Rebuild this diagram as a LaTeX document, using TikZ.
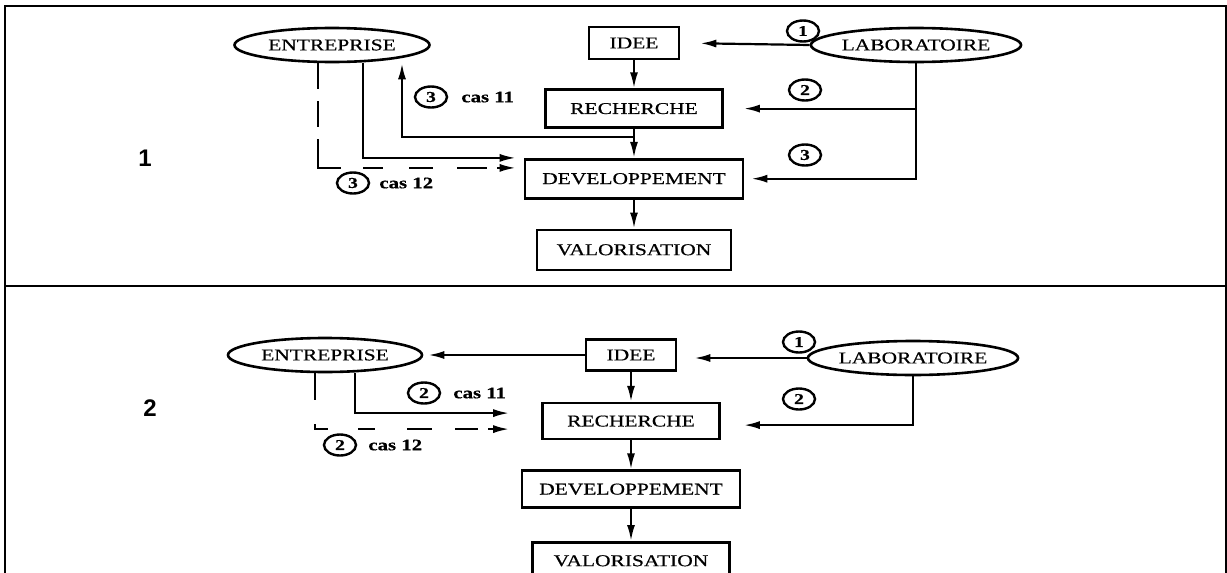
\documentclass[tikz,border=0pt]{standalone}
\usepackage{fontspec}
\setmainfont{Liberation Serif}[FakeStretch=1.3,FakeBold=0.6]
\newfontfamily\panelfont{Liberation Sans}
\usetikzlibrary{arrows.meta,positioning,shapes.geometric}

\begin{document}
\begin{tikzpicture}[
  x=1pt,y=1pt,
  box/.style={draw,line width=2.6pt,inner sep=0pt,font=\fontsize{16.5}{18}\selectfont},
  actor/.style={draw,ellipse,line width=2.6pt,inner sep=0pt,minimum width=194pt,
    minimum height=34pt,font=\fontsize{16.5}{18}\selectfont},
  num/.style={draw,ellipse,line width=2.4pt,inner sep=0pt,minimum width=32pt,
    minimum height=21pt,font=\bfseries\fontsize{15}{15}\selectfont},
  cas/.style={inner sep=0pt,font=\bfseries\fontsize{16}{16}\selectfont},
  panel/.style={font=\panelfont\bfseries\fontsize{24}{24}\selectfont},
  arrow/.style={-{Latex[length=16pt,width=8pt]},line width=2.2pt},
  dashone/.style={dash pattern=on 26pt off 12pt on 26pt off 12pt on 52pt off 22pt
    on 20pt off 26pt on 24pt off 24pt on 30pt off 10pt},
  dashtwo/.style={dash pattern=on 27pt off 24pt on 18pt off 30pt on 17pt off 32pt
    on 25pt off 23pt on 23pt off 10pt}
]
\useasboundingbox (0,0) rectangle (1227,-573);
% frame
\draw[line width=2.4pt] (5,-573) -- (5,-6) -- (1226,-6) -- (1226,-573);
\draw[line width=2.4pt] (5,-286) -- (1226,-286);
\node[panel] (p1) at (145,-158) {1};
\node[panel] (p2) at (150,-408) {2};

% panel 1
\node[box,minimum width=90pt,minimum height=32pt] (idee1) at (634,-43) {IDEE};
\node[box,minimum width=177pt,minimum height=38pt,below=28pt of idee1] (rec1) {RECHERCHE};
\node[box,minimum width=218pt,minimum height=39pt,below=29pt of rec1] (dev1) {DEVELOPPEMENT};
\node[box,minimum width=194pt,minimum height=40pt,below=29pt of dev1] (val1) {VALORISATION};
\node[actor,minimum width=195pt] (ent1) at (332,-45) {ENTREPRISE};
\node[actor] (lab1) at (916,-45) {LABORATOIRE};
\draw[arrow] (idee1) -- (rec1);
\draw[arrow] (rec1) -- (dev1);
\draw[arrow] (dev1) -- (val1);
\draw[arrow,shorten >=20pt] (lab1.west) -- (idee1.east);
\draw[arrow,shorten >=20pt] (lab1.south |- rec1.east) -- (rec1.east);
\draw[arrow,shorten >=7pt] (lab1.south) |- (dev1.east);
\draw[arrow] ([yshift=-8pt]rec1.south) -| ([xshift=70pt]ent1.south);
\draw[arrow] ([xshift=31pt]ent1.south) |- ([xshift=-8pt]dev1.north west);
\draw[arrow,dashone] ([xshift=-14pt]ent1.south) |- ([xshift=-8pt,yshift=-10pt]dev1.north west);
\node[num] (n11) at (803,-31) {1};
\node[num] (n12) at (805,-90) {2};
\node[num] (n13) at (805,-155) {3};
\node[num] (e11) at (431,-97) {3};
\node[cas,right=13pt of e11] (c11) {cas 11};
\node[num] (e12) at (353,-183) {3};
\node[cas,right=9pt of e12] (c12) {cas 12};

% panel 2
\node[box,minimum width=90pt,minimum height=31pt] (idee2) at (631,-355) {IDEE};
\node[box,minimum width=177pt,minimum height=36pt,below=30pt of idee2] (rec2) {RECHERCHE};
\node[box,minimum width=218pt,minimum height=37pt,below=29pt of rec2] (dev2) {DEVELOPPEMENT};
\node[box,minimum width=197pt,minimum height=37pt,below=32pt of dev2] (val2) {VALORISATION};
\node[actor] (ent2) at (325,-355) {ENTREPRISE};
\node[actor] (lab2) at (913,-358) {LABORATOIRE};
\draw[arrow] (idee2) -- (rec2);
\draw[arrow] (rec2) -- (dev2);
\draw[arrow] (dev2) -- (val2);
\draw[arrow,shorten >=5pt] (idee2.west) -- (ent2.east);
\draw[arrow,shorten >=17pt] (lab2.west) -- (lab2.west -| idee2.east);
\draw[arrow,shorten >=23pt] (lab2.south) |- ([yshift=-4pt]rec2.east);
\draw[arrow] ([xshift=30pt]ent2.south) |- ([xshift=-32pt,yshift=8pt]rec2.west);
\draw[arrow,dashtwo] ([xshift=-10pt]ent2.south) |- ([xshift=-32pt,yshift=-8pt]rec2.west);
\node[num] (n21) at (799,-342) {1};
\node[num] (n22) at (799,-399) {2};
\node[num] (e21) at (424,-393) {2};
\node[cas,right=12pt of e21] (c21) {cas 11};
\node[num] (e22) at (340,-445) {2};
\node[cas,right=11pt of e22] (c22) {cas 12};
\end{tikzpicture}
\end{document}
